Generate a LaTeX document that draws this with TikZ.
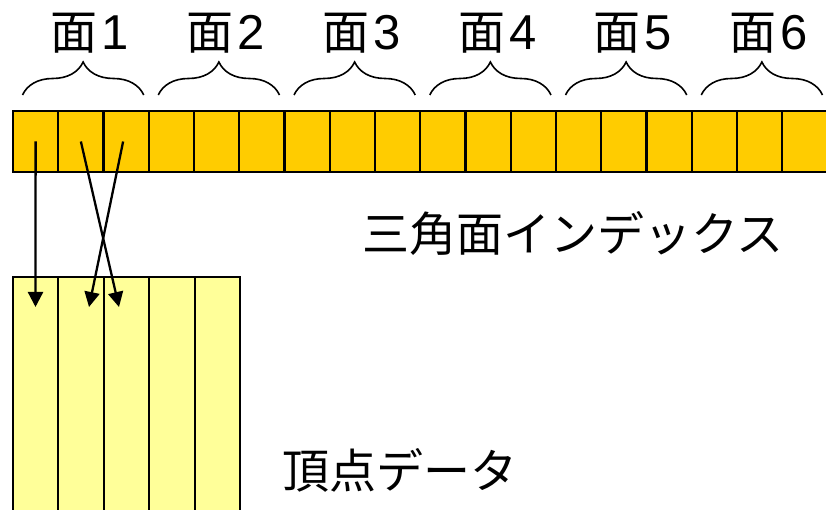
\documentclass[tikz,border=0pt]{standalone}
\usepackage{fontspec}
\newfontfamily\jp{Noto Sans CJK JP}
\newfontfamily\digitfont{Liberation Sans}
\usetikzlibrary{arrows.meta,decorations.pathreplacing,calc}
\definecolor{idxfill}{HTML}{FFCC00}
\definecolor{vtxfill}{HTML}{FFFF99}
\begin{document}
\begin{tikzpicture}[x=1pt,y=1pt,
  idxcell/.style={draw,line width=2.1pt,fill=idxfill,minimum width=45.25pt,minimum height=61pt,inner sep=0pt,outer sep=0pt,anchor=north west},
  vtxcell/.style={draw,line width=2.1pt,fill=vtxfill,minimum width=45.4pt,minimum height=245pt,inner sep=0pt,outer sep=0pt,anchor=north west},
  lbl/.style={font=\jp\fontsize{47}{47}\selectfont,inner sep=0pt},
  grp/.style={decorate,decoration={brace,amplitude=33pt},line width=1.6pt},
  ptr/.style={line width=2.3pt,-{Triangle[length=15pt,width=15pt]}}]
\useasboundingbox (0,0) rectangle (826,510);
\clip (0,0) rectangle (826,510);
% index strip
\foreach \i in {1,...,18}
  \node[idxcell] (i\i) at ({13+(\i-1)*45.25},399) {};
% vertex data
\foreach \j in {1,...,5}
  \node[vtxcell] (v\j) at ({13+(\j-1)*45.4},233) {};
% braces and face labels
\foreach \k/\t in {0/1,1/2,2/3,3/4,4/5,5/6}{
  \draw[grp] ({13+3*\k*45.25+9.5},415) -- ({13+(3*\k+3)*45.25-5},415);
  \node[lbl,anchor=base] (f\t) at ({13+(3*\k+1.5)*45.25+9},460) {面\hspace{4pt}{\digitfont\fontsize{49}{49}\selectfont\t}};
}
% pointers
\coordinate (t1) at (35.5,203);
\coordinate (t2) at (119,203);
\coordinate (t3) at (89,203);
\draw[ptr] (i1.center) -- (t1);
\draw[ptr] (i2.center) -- (t2);
\draw[ptr] ($(i3.center)+(-3,0)$) -- (t3);
% captions
\node[lbl,anchor=base west] (idxlabel) at (362,258) {三角面インデックス};
\node[lbl,anchor=base west] (vtxlabel) at (282,21) {頂点データ};
\end{tikzpicture}
\end{document}
